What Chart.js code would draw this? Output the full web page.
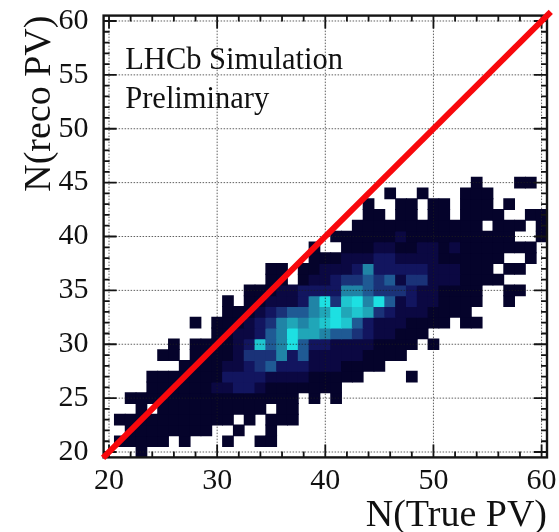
<!DOCTYPE html>
<html>
<head>
<meta charset="utf-8">
<style>
    html, body { margin: 0; padding: 0; background: #fff; }
    canvas { display: block; filter: blur(0.55px); }
</style>
<script src="https://cdn.jsdelivr.net/npm/chart.js@4/dist/chart.umd.js"></script>
</head>
<body>
<canvas id="pvChart" width="559" height="532"></canvas>
<script>
const xTicks = [20, 22, 24, 26, 28, 30, 32, 34, 36, 38, 40, 42, 44, 46, 48, 50, 52, 54, 56, 58, 60];
const yTicks = [20, 21, 22, 23, 24, 25, 26, 27, 28, 29, 30, 31, 32, 33, 34, 35, 36, 37, 38, 39, 40,
    41, 42, 43, 44, 45, 46, 47, 48, 49, 50, 51, 52, 53, 54, 55, 56, 57, 58, 59, 60];
const diagonal = [19.45, 60.85];

// one row per N(reco PV) bin, first N(True PV) bin of the row in rowStart, 0 = empty bin
const rowReco = [20, 21, 22, 23, 24, 25, 26, 27, 28, 29, 30, 31, 32,
    33, 34, 35, 36, 37, 38, 39, 40, 41, 42, 43, 44, 45];
const rowStart = [23, 21, 22, 21, 23, 22, 24, 24, 27, 25, 26, 30, 28,
    31, 31, 33, 35, 35, 39, 39, 41, 43, 44, 44, 46, 54];
const rowCounts = [
    [1],
    [1, 1, 1, 1, 1, 0, 1, 0, 0, 0, 1, 0, 0, 1, 1],
    [1, 1, 1, 1, 1, 1, 1, 1, 0, 0, 1, 0, 0, 1],
    [1, 1, 1, 1, 1, 1, 1, 1, 1, 1, 1, 0, 1, 0, 1, 1, 1],
    [1, 0, 1, 1, 1, 1, 1, 1, 1, 1, 1, 1, 0, 1, 1],
    [1, 1, 1, 1, 1, 1, 1, 1, 1, 1, 1, 1, 1, 1, 1, 1, 0, 1, 0, 1],
    [1, 1, 1, 1, 1, 1, 2, 2, 3, 3, 2, 1, 1, 1, 1, 1, 1, 1],
    [1, 1, 1, 1, 1, 1, 1, 3, 3, 3, 3, 2, 2, 2, 2, 1, 1, 1, 1, 1, 0, 0, 0, 0, 1],
    [1, 1, 1, 1, 2, 2, 3, 4, 5, 3, 3, 3, 2, 2, 2, 1, 1, 1, 1],
    [1, 1, 0, 1, 1, 1, 1, 2, 4, 4, 4, 6, 3, 5, 2, 2, 2, 2, 2, 1, 1, 1, 1],
    [1, 0, 1, 1, 1, 1, 2, 3, 8, 5, 6, 9, 5, 3, 3, 2, 2, 2, 2, 1, 1, 1, 1, 0, 1],
    [1, 1, 2, 2, 3, 5, 6, 9, 7, 7, 6, 5, 5, 4, 3, 2, 2, 1, 1, 1],
    [1, 0, 1, 1, 1, 2, 3, 4, 6, 7, 6, 7, 8, 9, 8, 5, 3, 2, 2, 2, 1, 1, 1, 1, 0, 1, 1],
    [1, 1, 1, 2, 3, 4, 5, 5, 6, 7, 9, 7, 8, 7, 4, 3, 2, 2, 2, 1, 1, 1, 1],
    [1, 0, 1, 1, 2, 2, 2, 3, 6, 9, 4, 8, 9, 6, 9, 5, 2, 3, 2, 2, 1, 1, 1, 1, 0, 0, 1],
    [1, 1, 1, 2, 2, 3, 3, 3, 3, 6, 6, 5, 4, 4, 4, 3, 2, 2, 1, 1, 1, 1, 0, 0, 1, 1],
    [1, 1, 0, 1, 2, 2, 3, 4, 4, 5, 4, 5, 2, 4, 4, 2, 2, 2, 1, 1, 1, 1],
    [1, 1, 0, 1, 1, 2, 2, 2, 3, 6, 3, 3, 3, 3, 3, 2, 2, 2, 1, 1, 1, 0, 1, 1],
    [1, 1, 1, 2, 2, 2, 3, 3, 2, 2, 2, 2, 1, 1, 1, 1, 1, 1, 0, 0, 1],
    [1, 0, 0, 1, 1, 1, 2, 2, 1, 1, 2, 2, 1, 2, 1, 1, 1, 1, 1, 1, 1],
    [1, 1, 1, 1, 1, 1, 2, 1, 1, 1, 1, 1, 1, 1, 1, 1, 1, 0, 0, 1],
    [1, 1, 1, 1, 1, 1, 1, 1, 1, 1, 1, 1, 0, 1, 1, 1, 0, 1],
    [1, 1, 0, 1, 1, 0, 1, 1, 0, 1, 1, 1, 1, 0, 0, 1, 1],
    [1, 0, 0, 1, 1, 0, 1, 1, 0, 1, 1, 1, 0, 1],
    [1, 0, 0, 1, 0, 0, 0, 1, 1, 1],
    [1, 0, 0, 0, 1, 1]
];
const levelColors = ['#ffffff', '#05032b', '#0b0842', '#12155f', '#1a3278', '#1f5a94',
    '#2084a6', '#20a6b8', '#1fc6cf', '#1de0e2'];

const cells = [];
rowCounts.forEach(function (row, r) {
    row.forEach(function (count, i) {
        if (count > 0) {
            cells.push({ x: rowStart[r] + i, y: rowReco[r], v: count });
        }
    });
});

function binRadius(ctx) {
    const xScale = ctx.chart.scales.x;
    if (!xScale) {return 7;}
    const binWidth = xScale.getPixelForValue(1) - xScale.getPixelForValue(0);
    return (binWidth + 0.9) / Math.SQRT2;
}

// dotted grid sits over the histogram but under the red line
const gridOverCells = {
    id: 'gridOverCells',
    afterDatasetDraw(chart, args) {
        if (args.index !== 0) {return;}
        const ctx = chart.ctx;
        const area = chart.chartArea;
        ctx.save();
        ctx.lineWidth = 1;
        ctx.setLineDash([1.5, 1.5]);
        ctx.strokeStyle = 'rgba(30,30,30,0.7)';
        xTicks.filter(v => v % 10 === 0).forEach(function (v) {
            const px = chart.scales.x.getPixelForValue(v);
            ctx.beginPath();
            ctx.moveTo(px, area.top);
            ctx.lineTo(px, area.bottom);
            ctx.stroke();
        });
        yTicks.filter(v => v % 5 === 0).forEach(function (v) {
            const py = chart.scales.y.getPixelForValue(v);
            ctx.beginPath();
            ctx.moveTo(area.left, py);
            ctx.lineTo(area.right, py);
            ctx.stroke();
        });
        ctx.restore();
    }
};

// ROOT style frame with inward ticks on all four sides, and the label
const frameTicks = {
    id: 'frameTicks',
    beforeDatasetsDraw(chart) {
        const ctx = chart.ctx;
        ctx.save();
        ctx.fillStyle = '#111111';
        ctx.font = '30.5px "Liberation Serif"';
        ctx.textAlign = 'left';
        const textX = chart.scales.x.getPixelForValue(21.5);
        ctx.fillText('LHCb Simulation', textX, chart.scales.y.getPixelForValue(55.5));
        ctx.fillText('Preliminary', textX, chart.scales.y.getPixelForValue(51.9));
        ctx.restore();
    },
    beforeDatasetDraw(chart, args) {
        if (args.index !== 1) {return;}
        const ctx = chart.ctx;
        const area = chart.chartArea;
        ctx.save();
        ctx.strokeStyle = '#141414';
        ctx.lineWidth = 1.8;
        ctx.beginPath();
        xTicks.forEach(function (v) {
            const px = chart.scales.x.getPixelForValue(v);
            const len = v % 10 === 0 ? 13 : 6;
            ctx.moveTo(px, area.bottom);
            ctx.lineTo(px, area.bottom - len);
            ctx.moveTo(px, area.top);
            ctx.lineTo(px, area.top + len);
        });
        yTicks.forEach(function (v) {
            const py = chart.scales.y.getPixelForValue(v);
            const len = v % 5 === 0 ? 13 : 6;
            ctx.moveTo(area.left, py);
            ctx.lineTo(area.left + len, py);
            ctx.moveTo(area.right, py);
            ctx.lineTo(area.right - len, py);
        });
        ctx.stroke();
        ctx.lineWidth = 2.4;
        ctx.strokeRect(area.left, area.top, area.right - area.left, area.bottom - area.top);
        ctx.restore();
    }
};

new Chart(document.getElementById('pvChart').getContext('2d'), {
    type: 'scatter',
    data: {
        datasets: [{
            data: cells,
            order: 2,
            pointStyle: 'rect',
            pointRadius: binRadius,
            pointBorderWidth: 0,
            pointBackgroundColor: ctx => levelColors[ctx.raw ? ctx.raw.v : 0]
        }, {
            data: diagonal.map(v => ({ x: v, y: v })),
            order: 1,
            clip: false,
            showLine: true,
            borderColor: '#f8080c',
            borderWidth: 6,
            pointRadius: 0
        }]
    },
    options: {
        responsive: false,
        animation: false,
        events: [],
        layout: { padding: { top: 15.6, right: 12, left: 0, bottom: 0 } },
        plugins: { legend: { display: false }, tooltip: { enabled: false } },
        scales: {
            x: {
                type: 'linear',
                min: 19.5,
                max: 60.5,
                afterBuildTicks(scale) { scale.ticks = xTicks.map(v => ({ value: v })); },
                afterFit(scale) {
                    scale.height = 74.6;
                    scale.paddingLeft = 0;
                    scale.paddingRight = 0;
                },
                grid: { display: false },
                border: { display: false },
                ticks: {
                    autoSkip: false,
                    maxRotation: 0,
                    padding: -2,
                    color: '#111111',
                    font: { family: '"Liberation Serif"', size: 30 },
                    callback: v => (v % 10 === 0 ? String(v) : '')
                },
                title: {
                    display: true,
                    text: 'N(True PV)',
                    align: 'end',
                    color: '#111111',
                    padding: { top: 0, bottom: -3 },
                    font: { family: '"Liberation Serif"', size: 38, lineHeight: 1 }
                }
            },
            y: {
                type: 'linear',
                min: 19.5,
                max: 60.5,
                afterBuildTicks(scale) { scale.ticks = yTicks.map(v => ({ value: v })); },
                afterFit(scale) {
                    scale.width = 103.6;
                    scale.paddingTop = 0;
                    scale.paddingBottom = 0;
                },
                grid: { display: false },
                border: { display: false },
                ticks: {
                    autoSkip: false,
                    padding: 7,
                    color: '#111111',
                    font: { family: '"Liberation Serif"', size: 30 },
                    callback: v => (v % 5 === 0 ? String(v) : '')
                },
                title: {
                    display: true,
                    text: 'N(reco PV)',
                    align: 'end',
                    color: '#111111',
                    padding: { top: 21, bottom: 0 },
                    font: { family: '"Liberation Serif"', size: 38, lineHeight: 1 }
                }
            }
        }
    },
    plugins: [gridOverCells, frameTicks]
});
</script>
</body>
</html>
